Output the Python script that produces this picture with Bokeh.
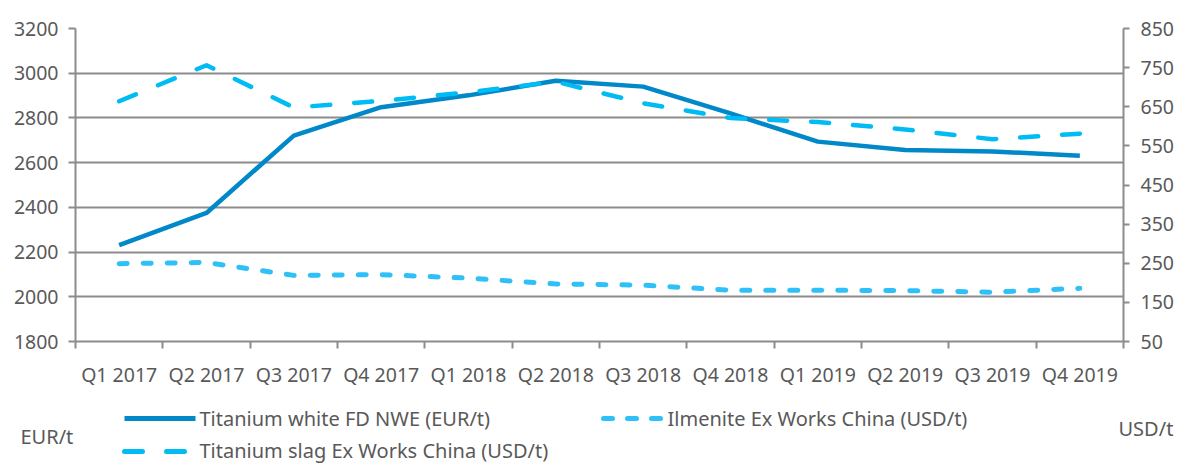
from bokeh.plotting import figure
from bokeh.layouts import column
from bokeh.models import Range1d, LinearAxis, FixedTicker
from bokeh.core.properties import value
from bokeh.embed import file_html
from bokeh.resources import INLINE

quarters = ["Q1 2017", "Q2 2017", "Q3 2017", "Q4 2017", "Q1 2018", "Q2 2018",
            "Q3 2018", "Q4 2018", "Q1 2019", "Q2 2019", "Q3 2019", "Q4 2019"]
titanium_white = [2231, 2375, 2721, 2848, 2901, 2966, 2940, 2820, 2694, 2657, 2650, 2631]
titanium_slag = [664, 756, 648, 665, 687, 714, 659, 621, 611, 592, 567, 581]
ilmenite = [249, 252, 219, 221, 212, 197, 194, 181, 181, 180, 176, 186]
left_ticks = [1800, 2000, 2200, 2400, 2600, 2800, 3000, 3200]
right_ticks = [50, 150, 250, 350, 450, 550, 650, 750, 850]
series_names = ["Titanium white FD NWE (EUR/t)", "Ilmenite Ex Works China (USD/t)",
                "Titanium slag Ex Works China (USD/t)"]
unit_left, unit_right = "EUR/t", "USD/t"

FONT = "Noto Sans"
TXT = "#595959"
GRID = "#8c8c8c"
C_WHITE = "#0088c8"
C_SLAG = "#00bcf5"
C_ILM = "#30c0f8"

W = 1178
xs = [i + 0.5 for i in range(len(quarters))]

p = figure(width=W, height=390, output_backend="svg", toolbar_location=None,
           x_range=Range1d(0, len(quarters)), y_range=Range1d(left_ticks[0], left_ticks[-1]),
           min_border_left=75, min_border_right=55, min_border_top=28, min_border_bottom=42)
p.outline_line_color = None
p.frame_align = False

p.extra_y_ranges = {"right": Range1d(right_ticks[0], right_ticks[-1])}

# x axis
xa = p.xaxis[0]
xa.ticker = FixedTicker(ticks=xs, minor_ticks=list(range(len(quarters) + 1)))
xa.major_label_overrides = {x: q for x, q in zip(xs, quarters)}
xa.major_tick_out = 0
xa.major_tick_in = 0
xa.minor_tick_out = 7
xa.minor_tick_in = 0
xa.minor_tick_line_color = GRID
xa.minor_tick_line_width = 2
xa.axis_line_color = GRID
xa.axis_line_width = 2
xa.major_label_text_font = FONT
xa.major_label_text_font_size = "19.5px"
xa.major_label_text_color = TXT
xa.major_label_standoff = 12

# left axis
ya = p.yaxis[0]
ya.ticker = FixedTicker(ticks=left_ticks, minor_ticks=[])
ya.major_tick_out = 7
ya.major_tick_in = 0
ya.major_tick_line_color = GRID
ya.major_tick_line_width = 2
ya.minor_tick_line_color = None
ya.axis_line_color = GRID
ya.axis_line_width = 2
ya.major_label_text_font = FONT
ya.major_label_text_font_size = "19.5px"
ya.major_label_text_color = TXT
ya.major_label_standoff = 10

# right axis
ra = LinearAxis(y_range_name="right", ticker=FixedTicker(ticks=right_ticks, minor_ticks=[]))
ra.major_tick_out = 6
ra.major_tick_in = 0
ra.major_tick_line_color = GRID
ra.major_tick_line_width = 2
ra.minor_tick_line_color = None
ra.axis_line_color = GRID
ra.axis_line_width = 2
ra.major_label_text_font = FONT
ra.major_label_text_font_size = "19.5px"
ra.major_label_text_color = TXT
ra.major_label_standoff = 11
p.add_layout(ra, "right")

p.xgrid.grid_line_color = None
p.ygrid.ticker = FixedTicker(ticks=left_ticks, minor_ticks=[])
p.ygrid.grid_line_color = GRID
p.ygrid.grid_line_width = 2

# series
p.line(xs, titanium_white, line_color=C_WHITE, line_width=4.5, line_join="round")
p.line(xs, titanium_slag, line_color=C_SLAG, line_width=4.5, line_dash="18 24",
       line_cap="round", line_join="round", y_range_name="right")
p.line(xs, ilmenite, line_color=C_ILM, line_width=5, line_dash="8 16",
       line_cap="round", line_join="round", y_range_name="right")

# legend strip below (pixel coordinates of the page)
TOP = 390
lg = figure(width=W, height=463 - TOP, output_backend="svg", toolbar_location=None,
            x_range=Range1d(0, W), y_range=Range1d(463, TOP),
            x_axis_type=None, y_axis_type=None,
            min_border_left=0, min_border_right=0, min_border_top=0, min_border_bottom=0)
lg.outline_line_color = None
lg.frame_align = False
lg.xgrid.grid_line_color = None
lg.ygrid.grid_line_color = None

lg.line([124, 195], [418, 418], line_color=C_WHITE, line_width=5)
lg.line([603, 662], [418, 418], line_color=C_ILM, line_width=5, line_dash="9 15", line_cap="round")
lg.line([124, 186], [451, 451], line_color=C_SLAG, line_width=5, line_dash="18 24", line_cap="round")

lg.text(x=[199, 667, 199], y=[418, 418, 450], text=series_names,
        text_font=value(FONT), text_font_size="20px", text_color=TXT,
        text_align="left", text_baseline="middle")
lg.text(x=[20], y=[436], text=[unit_left], text_font=value(FONT), text_font_size="20px",
        text_color=TXT, text_align="left", text_baseline="middle")
lg.text(x=[1118], y=[428], text=[unit_right], text_font=value(FONT), text_font_size="20px",
        text_color=TXT, text_align="left", text_baseline="middle")

layout = column(p, lg, spacing=0)
open("out.html", "w").write(file_html(layout, INLINE))
